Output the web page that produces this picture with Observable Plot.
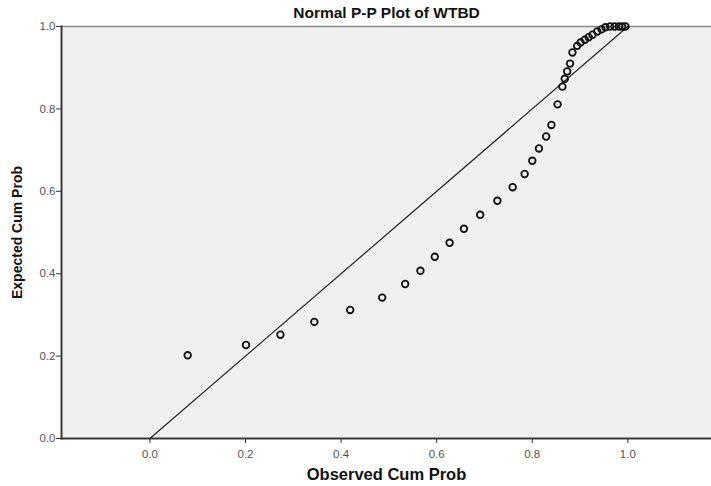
<!DOCTYPE html>
<html>
<head>
<meta charset="utf-8">
<script src="https://cdn.jsdelivr.net/npm/d3@7"></script>
<script src="https://cdn.jsdelivr.net/npm/@observablehq/plot@0.6"></script>
<style>
  html, body { margin: 0; padding: 0; background: #fff; }
  #chart svg { display: block; }
</style>
</head>
<body>
<div id="chart"></div>
<script>
// Observed cumulative probability (x) and expected cumulative probability (y)
const observed = [0.079, 0.201, 0.273, 0.344, 0.419, 0.486, 0.534, 0.566, 0.596, 0.627,
  0.657, 0.691, 0.727, 0.759, 0.784, 0.800, 0.814, 0.829, 0.840, 0.853,
  0.863, 0.868, 0.873, 0.879, 0.884, 0.894, 0.901, 0.910, 0.918, 0.926,
  0.936, 0.945, 0.953, 0.963, 0.972, 0.981, 0.988, 0.995];
const expected = [0.202, 0.227, 0.252, 0.283, 0.312, 0.342, 0.375, 0.407, 0.441, 0.475,
  0.509, 0.543, 0.577, 0.610, 0.642, 0.674, 0.704, 0.733, 0.761, 0.811,
  0.854, 0.873, 0.891, 0.910, 0.937, 0.953, 0.961, 0.968, 0.974, 0.980,
  0.988, 0.993, 0.998, 1.0, 1.0, 1.0, 1.0, 1.0];
const refLine = [0, 1];
const xTicks = [0, 0.2, 0.4, 0.6, 0.8, 1.0];
const yTicks = [0, 0.2, 0.4, 0.6, 0.8, 1.0];
const title = "Normal P-P Plot of WTBD";
const xLabel = "Observed Cum Prob";
const yLabel = "Expected Cum Prob";

const points = observed.map((x, i) => ({x, y: expected[i]}));
const diag = refLine.map(v => ({x: v, y: v}));

const fmt = d3.format(".1f");
const font = "'Liberation Sans', Arial, sans-serif";

const chart = Plot.plot({
  width: 711,
  height: 486,
  marginTop: 26,
  marginBottom: 48,
  marginLeft: 61,
  marginRight: 0,
  style: {fontFamily: font, background: "#fff"},
  x: {domain: [-0.185, 1.175]},
  y: {domain: [0, 1]},
  marks: [
    Plot.frame({fill: "#f0f0f0", stroke: null}),
    Plot.frame({anchor: "top", stroke: "#8a8a8a", strokeWidth: 1.5}),
    Plot.axisX({ticks: xTicks, tickFormat: fmt, tickSize: 5, tickPadding: 6, label: null,
      stroke: "#333", fill: "#555", fontSize: 11.5}),
    Plot.axisY({ticks: yTicks, tickFormat: fmt, tickSize: 5, tickPadding: 1, label: null,
      stroke: "#333", fill: "#555", fontSize: 11.5}),
    Plot.frame({anchor: "left", stroke: "#3a3a3a", strokeWidth: 2}),
    Plot.frame({anchor: "bottom", stroke: "#3a3a3a", strokeWidth: 2}),
    Plot.line(diag, {x: "x", y: "y", stroke: "#222", strokeWidth: 1.2}),
    Plot.dot(points, {x: "x", y: "y", r: 3.3, stroke: "#111", strokeWidth: 1.8, fill: "none"}),
    Plot.text([title], {frameAnchor: "top", dy: -13, lineAnchor: "middle", text: d => d,
      fontSize: 15.5, fontWeight: "bold", fill: "#111", fontFamily: font}),
    Plot.text([xLabel], {frameAnchor: "bottom", dy: 36, lineAnchor: "middle", text: d => d,
      fontSize: 16.5, fontWeight: "bold", fill: "#111", fontFamily: font}),
    Plot.text([yLabel], {frameAnchor: "left", dx: -44, rotate: -90, textAnchor: "middle",
      lineAnchor: "middle", text: d => d, fontSize: 14,
      fontWeight: "bold", fill: "#111", fontFamily: font})
  ]
});
document.getElementById("chart").appendChild(chart);
</script>
</body>
</html>
